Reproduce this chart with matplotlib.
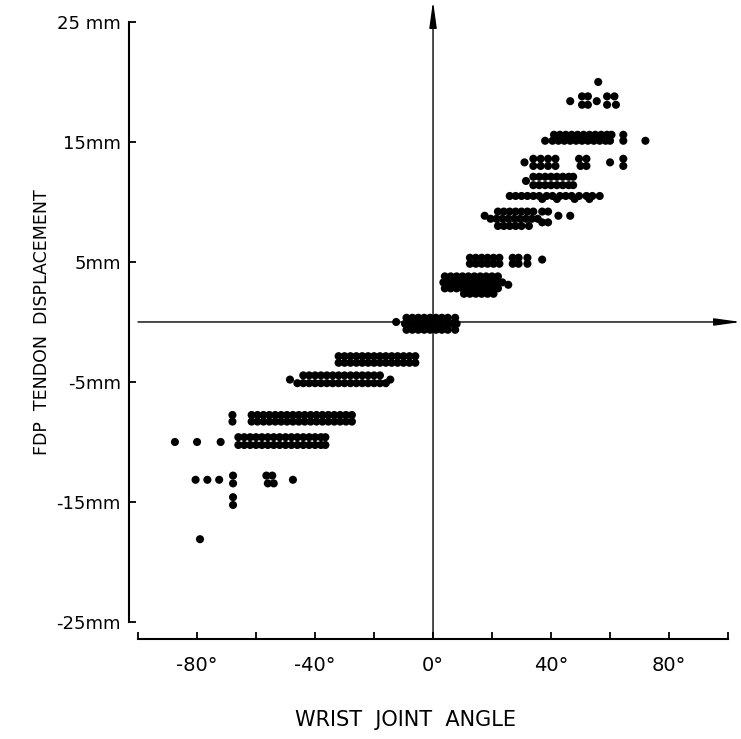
import matplotlib
matplotlib.use("Agg")
import matplotlib.pyplot as plt

# each displacement level (mm) and the wrist angles (deg) plotted at that level
levels_mm = [
    20.0, 18.8, 18.4, 18.1, 15.6, 15.1, 13.6, 13.3, 13.0, 12.1, 11.75, 11.4,
    10.5, 10.25, 9.2, 8.85, 8.6, 8.3, 8.0, 5.35, 5.2, 4.85, 3.8, 3.3, 3.1,
    2.8, 2.35, 0.35, 0.0, -0.15, -0.65,
    -2.85, -3.4, -4.45, -4.8, -5.1, -7.75, -8.3, -9.6, -10.0, -10.25,
    -12.8, -13.15, -13.45, -14.6, -15.25, -18.1,
]
angles_deg = [
    [56],
    [50.5, 52.5, 59, 61.5],
    [46.5, 55.5],
    [50.5, 52.5, 59, 62],
    [41, 43, 45, 47, 49, 51, 53, 55, 57, 59, 60.5, 64.5],
    [38, 40.5, 42.5, 44.5, 46.5, 48.5, 50.5, 52.5, 54.5, 56.5, 58.5, 60, 64.5, 72],
    [34, 36.5, 39, 41.5, 49.5, 52, 64.5],
    [31, 60],
    [34, 36.5, 39, 41.5, 50, 52, 64.5],
    [34, 36, 38, 40, 42, 44, 46, 47.5],
    [31.5],
    [34, 36, 38, 40, 42, 44, 46, 47.5],
    [26, 28, 30, 32, 34, 36, 38.5, 40.5, 43, 45, 47, 49.5, 52, 54, 56.5],
    [37, 42, 48, 53],
    [22, 24, 26, 28, 30, 32, 34, 37, 39],
    [17.5, 42.5, 46.5],
    [19.5, 21.5, 23.5, 25.5, 27.5, 29.5, 31.5, 33.5, 35.5],
    [37, 39],
    [22, 24, 26, 28, 30, 32.5],
    [12.5, 14.5, 16.5, 18.5, 20.5, 22.5, 27, 29, 32],
    [37],
    [12.5, 14.5, 16.5, 18.5, 20.5, 22.5, 27, 29, 32],
    [4, 6, 8, 10, 12, 14, 16, 18, 20, 22],
    [3.5, 5.5, 7.5, 9.5, 11.5, 13.5, 15.5, 17.5, 19.5, 21.5, 23.5],
    [25.5],
    [4, 6, 8, 10, 12, 14, 16, 18, 20, 22],
    [10.5, 12.5, 14.5, 16.5, 18.5, 20.5],
    [-9, -7, -5, -3, -1, 1, 3, 5, 7.5],
    [-12.5],
    [-9.5, -7.5, -5.5, -3.5, -1.5, 0.5, 2.5, 4.5, 6.5, 8],
    [-9, -7, -5, -3, -1, 1, 3, 5, 7.5],
    [-32, -30, -28, -26, -24, -22, -20, -18, -16, -14, -12, -10, -8, -6],
    [-32, -30, -28, -26, -24, -22, -20, -18, -16, -14, -12, -10, -8, -6],
    [-44, -42, -40, -38, -36, -34, -32, -30, -28, -26, -24, -22, -20, -18],
    [-48.5, -14.5],
    [-46, -44, -42, -40, -38, -36, -34, -32, -30, -28, -26, -24, -22, -20, -18, -16],
    [-68, -61.5, -59.5, -57.5, -55.5, -53.5, -51.5, -49.5, -47.5, -45.5, -43.5,
     -41.5, -39.5, -37.5, -35.5, -33.5, -31.5, -29.5, -27.5],
    [-68, -61.5, -59.5, -57.5, -55.5, -53.5, -51.5, -49.5, -47.5, -45.5, -43.5,
     -41.5, -39.5, -37.5, -35.5, -33.5, -31.5, -29.5, -27.5],
    [-66, -64, -62, -60, -58, -56, -54, -52, -50, -48, -46, -44, -42, -40, -38, -36.5],
    [-87.5, -80, -72],
    [-66, -64, -62, -60, -58, -56, -54, -52, -50, -48, -46, -44, -42, -40, -38, -36.5],
    [-67.8, -56.5, -54.5],
    [-80.5, -76.5, -72.5, -47.5],
    [-67.8, -56, -54],
    [-67.8],
    [-67.8],
    [-79],
]

x_ticks = [-100, -80, -60, -40, -20, 0, 20, 40, 60, 80, 100]
x_tick_labels = ["", "-80°", "", "-40°", "", "0°", "", "40°", "", "80°", ""]
y_ticks = [25, 15, 5, -5, -15, -25]
y_tick_labels = ["25 mm", "15mm", "5mm", "-5mm", "-15mm", "-25mm"]

plt.rcParams["font.family"] = "DejaVu Sans"

fig = plt.figure(figsize=(7.41, 7.39), dpi=100)
ax = fig.add_axes([0, 0, 1, 1])
ax.set_xlim(-146.8, 104.4)
ax.set_ylim(-34.75, 26.83)

for y, xs in zip(levels_mm, angles_deg):
    ax.scatter(xs, [y] * len(xs), s=34, color="black", edgecolors="none", zorder=3)

# offset axes like the hand-drawn original
ax.spines["top"].set_visible(False)
ax.spines["right"].set_visible(False)
ax.spines["left"].set_position(("data", -103))
ax.spines["left"].set_bounds(-25, 25)
ax.spines["bottom"].set_position(("data", -26.45))
ax.spines["bottom"].set_bounds(-100, 100)
for s in ["left", "bottom"]:
    ax.spines[s].set_linewidth(1.5)

ax.set_xticks(x_ticks)
ax.set_xticklabels(x_tick_labels, fontsize=14)
ax.set_yticks(y_ticks)
ax.set_yticklabels(y_tick_labels, fontsize=13)
ax.tick_params(axis="x", direction="in", length=5, width=1.3, pad=12)
ax.tick_params(axis="y", direction="in", length=5, width=1.3, pad=6)

# cross-hair arrows through the origin
ax.annotate("", xy=(0, 26.75), xytext=(0, -26.45), annotation_clip=False,
            arrowprops=dict(arrowstyle="-|>,head_length=1.6,head_width=0.22",
                            mutation_scale=10, lw=1.0, color="black",
                            shrinkA=0, shrinkB=0))
ax.annotate("", xy=(104.4, 0), xytext=(-100, 0), annotation_clip=False,
            arrowprops=dict(arrowstyle="-|>,head_length=1.6,head_width=0.22",
                            mutation_scale=10, lw=1.0, color="black",
                            shrinkA=0, shrinkB=0))

ax.text(0.5466, 0.0257, "WRIST  JOINT  ANGLE", transform=ax.transAxes,
        ha="center", va="center", fontsize=15)
ax.text(0.0567, 0.5643, "FDP  TENDON  DISPLACEMENT", transform=ax.transAxes,
        ha="center", va="center", rotation=90, fontsize=12.5)

fig.savefig("out.png", dpi=100)
